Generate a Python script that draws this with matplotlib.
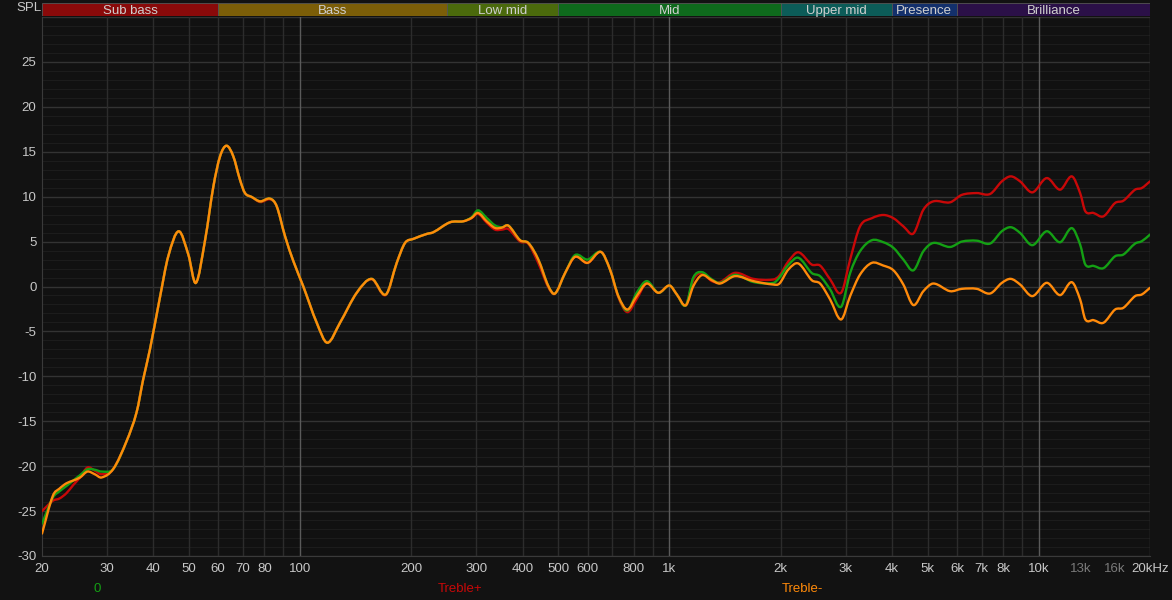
import matplotlib
matplotlib.use("Agg")
import matplotlib.pyplot as plt
from matplotlib.patches import Rectangle, PathPatch
from matplotlib.path import Path
import numpy as np

plt.rcParams['font.family'] = ['Liberation Sans', 'DejaVu Sans']

# ---------------- data ----------------
freq_hz = [20, 21.4, 22.3, 23.3, 24.3, 25.35, 26.55, 27.8, 29.0, 31.2, 33.9, 36.07, 37.6, 39.2,
           41.7, 43.95, 46.9, 49.8, 52.2, 55.3, 58.2, 60.7, 63.2, 65.9, 68.7, 70.9, 73.9, 77.9,
           82.9, 86.4, 91.0, 95.9, 102, 110.9, 118.5, 128.2, 142.3, 156.2, 170.6, 182.6, 192.3,
           202.5, 220.1, 229.4, 254.6, 276.6, 291, 303, 320, 337, 351.6, 366.2, 394, 414.8,
           441.4, 470, 490, 521.6, 555, 600, 652, 690, 727, 769, 815, 868, 933, 1000, 1047,
           1107, 1160, 1223, 1302, 1371, 1505, 1687, 1911, 1985, 2099, 2234, 2428, 2557, 2722,
           2915, 3084, 3281, 3530, 3793, 4040, 4297, 4575, 4869, 5183, 5750, 6187, 6792, 7380,
           7940, 8396, 8898, 9606, 10506, 11418, 12282, 12937, 13366, 14054, 14956, 16090,
           16944, 18224, 19000, 20000]

treble_minus = [-27.5, -23.3, -22.5, -21.9, -21.6, -21.26, -20.6, -20.9, -21.26, -20.3, -17.2,
                -14.0, -10.3, -7.0, -1.26, 3.37, 6.15, 3.56, 0.4, 5.2, 11.1, 14.5, 15.67, 14.5,
                11.9, 10.4, 9.97, 9.48, 9.78, 8.93, 5.6, 2.8, 0.0, -4.04, -6.26, -4.04, -0.7,
                0.85, -0.89, 2.63, 4.85, 5.3, 5.85, 6.04, 7.15, 7.26, 7.63, 8.19, 7.26, 6.52,
                6.55, 6.78, 5.15, 4.85, 3.0, 0.04, -0.78, 1.5, 3.3, 2.63, 3.85, 1.9, -1.07,
                -2.56, -1.07, 0.33, -0.7, 0.11, -0.89, -2.1, 0.04, 1.26, 0.7, 0.33, 1.15, 0.6,
                0.22, 0.33, 1.9, 2.56, 0.7, 0.33, -1.44, -3.67, -1.07, 1.33, 2.63, 2.33, 1.8,
                0.22, -2.07, -0.52, 0.33, -0.52, -0.26, -0.26, -0.78, 0.4, 0.85, 0.22, -1.07,
                0.41, -0.96, 0.48, -1.44, -3.67, -3.74, -4.04, -2.56, -2.37, -1.07, -0.89, -0.15]

flat_0 = [-26.4, -23.5, -22.8, -22.2, -21.6, -21.0, -20.35, -20.4, -20.6, -20.3, -17.2,
          -14.0, -10.3, -7.0, -1.26, 3.37, 6.15, 3.56, 0.4, 5.2, 11.1, 14.5, 15.67, 14.5,
          11.9, 10.4, 9.97, 9.48, 9.78, 8.93, 5.6, 2.8, 0.0, -4.04, -6.26, -4.04, -0.7,
          0.85, -0.89, 2.63, 4.85, 5.3, 5.85, 6.04, 7.15, 7.26, 7.7, 8.48, 7.63, 6.8,
          6.6, 6.78, 5.15, 4.85, 3.0, 0.04, -0.78, 1.5, 3.5, 3.0, 3.85, 1.9, -1.07,
          -2.67, -0.7, 0.6, -0.7, 0.11, -0.89, -2.1, 1.0, 1.6, 0.8, 0.4, 1.3, 0.5,
          0.4, 1.0, 2.4, 3.2, 1.5, 1.15, -0.33, -2.26, 1.5, 3.93, 5.15, 4.93, 4.3,
          3.0, 1.8, 3.93, 4.85, 4.4, 5.0, 5.1, 4.78, 6.15, 6.6, 5.96, 4.6,
          6.15, 4.93, 6.5, 4.67, 2.44, 2.3, 2.04, 3.37, 3.56, 4.78, 5.04, 5.78]

treble_plus = [-25.0, -23.85, -23.6, -23.0, -22.1, -21.26, -20.15, -20.5, -20.9, -20.3, -17.2,
               -14.0, -10.3, -7.0, -1.26, 3.37, 6.15, 3.56, 0.4, 5.2, 11.1, 14.5, 15.67, 14.5,
               11.9, 10.4, 9.97, 9.4, 9.7, 8.93, 5.6, 2.8, 0.0, -4.04, -6.26, -4.04, -0.7,
               0.8, -0.95, 2.63, 4.85, 5.3, 5.85, 6.04, 7.15, 7.26, 7.6, 8.1, 7.1, 6.33,
               6.33, 6.4, 5.0, 4.75, 2.6, -0.1, -0.8, 1.5, 3.3, 2.63, 3.85, 1.9, -1.2,
               -2.85, -1.4, 0.4, -0.7, 0.11, -0.89, -2.1, 0.78, 1.48, 0.6, 0.5, 1.52, 0.85,
               0.78, 1.22, 2.8, 3.81, 2.44, 2.33, 0.8, -0.7, 3.0, 6.7, 7.6, 7.96, 7.6,
               6.7, 5.9, 8.55, 9.48, 9.37, 10.2, 10.4, 10.3, 11.7, 12.26, 11.7, 10.48,
               12.07, 10.78, 12.26, 10.4, 8.37, 8.19, 7.81, 9.3, 9.55, 10.78, 10.96, 11.7]

series_names = ["Treble+", "0", "Treble-"]
series_colors = ["#c80808", "#14a014", "#ff8a0a"]

band_names = ["Sub bass", "Bass", "Low mid", "Mid", "Upper mid", "Presence", "Brilliance"]
band_edges = [20, 60, 250, 500, 2000, 4000, 6000, 20000]
band_colors = ["#8a0a0a", "#7c5e08", "#4b6a0c", "#0e6a1c", "#0c5c58", "#13306c", "#2b1048"]

xtick_vals = [20, 30, 40, 50, 60, 70, 80, 100, 200, 300, 400, 500, 600, 800, 1000, 2000,
              3000, 4000, 5000, 6000, 7000, 8000, 10000, 13000, 16000, 20000]
xtick_labels = ["20", "30", "40", "50", "60", "70", "80", "100", "200", "300", "400", "500",
                "600", "800", "1k", "2k", "3k", "4k", "5k", "6k", "7k", "8k", "10k", "13k",
                "16k", "20kHz"]
ytick_vals = [-30, -25, -20, -15, -10, -5, 0, 5, 10, 15, 20, 25]


def smooth_path(fx, vals):
    """Cubic Hermite Bezier path through the read points (log-frequency space)."""
    lx = np.log10(np.asarray(fx, float))
    y = np.asarray(vals, float)
    n = len(lx)
    m = np.zeros(n)
    m[1:-1] = (y[2:] - y[:-2]) / (lx[2:] - lx[:-2])
    m[0] = (y[1] - y[0]) / (lx[1] - lx[0])
    m[-1] = (y[-1] - y[-2]) / (lx[-1] - lx[-2])
    verts = [(10 ** lx[0], y[0])]
    codes = [Path.MOVETO]
    for i in range(n - 1):
        d = lx[i + 1] - lx[i]
        verts.append((10 ** (lx[i] + d / 3), y[i] + m[i] * d / 3))
        verts.append((10 ** (lx[i + 1] - d / 3), y[i + 1] - m[i + 1] * d / 3))
        verts.append((10 ** lx[i + 1], y[i + 1]))
        codes += [Path.CURVE4] * 3
    return Path(verts, codes)


# ---------------- figure ----------------
W, H = 1172, 600
fig = plt.figure(figsize=(W / 100, H / 100), dpi=100, facecolor="#121212")


def px_rect(x0, y0, x1, y1):
    return [x0 / W, 1 - y1 / H, (x1 - x0) / W, (y1 - y0) / H]


ax = fig.add_axes(px_rect(42, 17, 1150, 556))
ax.set_facecolor("#111111")
ax.set_xscale("log")
ax.set_xlim(20, 20000)
ax.set_ylim(-30, 30)

# grid
for v in range(-30, 31):
    if v % 5 == 0:
        ax.axhline(v, color="#333333", lw=1.0, zorder=1)
    else:
        ax.axhline(v, color="#1c1c1c", lw=0.8, zorder=0.5)
for dec in [10, 100, 1000, 10000]:
    for mlt in range(2, 10):
        f = dec * mlt
        if f <= 20 or f >= 20000:
            continue
        c = "#1f1f1f" if f > 10000 else "#2c2c2c"
        ax.axvline(f, color=c, lw=1.0, zorder=1)
for f in [100, 1000, 10000]:
    ax.axvline(f, color="#5a5a5a", lw=1.0, zorder=1.2)
ax.axvline(20000, color="#3a3a3a", lw=1.0, zorder=1.2)

for name, vals, col in zip(series_names, [treble_plus, flat_0, treble_minus], series_colors):
    ax.add_patch(PathPatch(smooth_path(freq_hz, vals), facecolor="none", edgecolor=col,
                           lw=1.7, joinstyle="round", capstyle="round", zorder=3,
                           label=name))

for s in ["top", "right"]:
    ax.spines[s].set_visible(False)
ax.spines["left"].set_color("#3a3a3a")
ax.spines["bottom"].set_color("#3a3a3a")

ax.set_yticks(ytick_vals)
ax.set_yticklabels([str(v) for v in ytick_vals])
ax.set_xticks(xtick_vals)
ax.set_xticklabels(xtick_labels)
ax.xaxis.set_minor_locator(matplotlib.ticker.NullLocator())
ax.tick_params(axis="both", length=0, colors="#c8c8c8", labelsize=9.5)
ax.tick_params(axis="x", pad=5)
ax.tick_params(axis="y", pad=4)
for lbl in ax.get_xticklabels():
    if lbl.get_text() in ("13k", "16k"):
        lbl.set_color("#7a7a7a")

# SPL label
fig.text(29 / W, 1 - 8 / H, "SPL", color="#c8c8c8", fontsize=9.5, ha="center", va="center")

# band bar
bax = fig.add_axes(px_rect(42, 3, 1150, 16))
bax.set_xscale("log")
bax.set_xlim(20, 20000)
bax.set_ylim(0, 1)
bax.axis("off")
for i, name in enumerate(band_names):
    lo, hi = band_edges[i], band_edges[i + 1]
    bax.add_patch(Rectangle((lo, 0), hi - lo, 1, facecolor=band_colors[i],
                            edgecolor="#555555", lw=0.6))
    bax.text(np.sqrt(lo * hi), 0.38, name, color="#cfcfcf", fontsize=9.5,
             ha="center", va="center")

# bottom legend texts
leg_x = [97, 460, 802]
leg_names = ["0", "Treble+", "Treble-"]
leg_cols = ["#14a014", "#c80808", "#ff8a0a"]
for x, n, c in zip(leg_x, leg_names, leg_cols):
    fig.text(x / W, 1 - 589 / H, n, color=c, fontsize=9.5, ha="center", va="center")

fig.savefig("out.png", dpi=100, facecolor=fig.get_facecolor())
